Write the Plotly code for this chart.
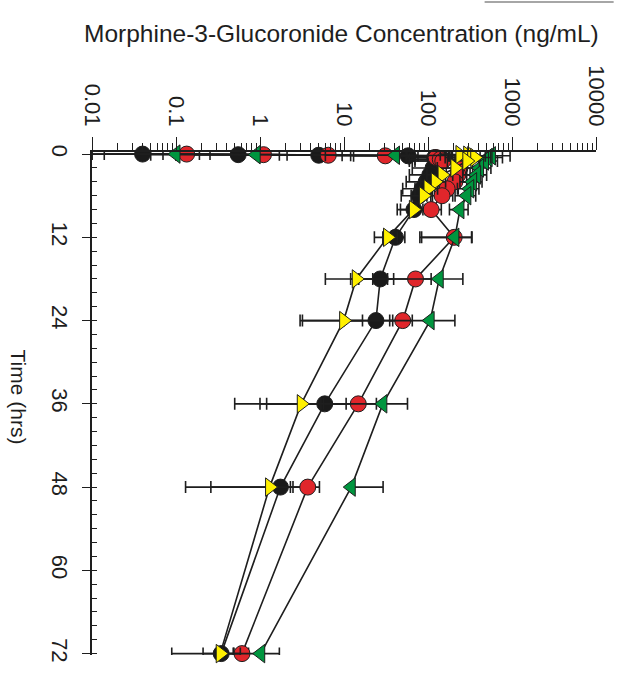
import plotly.graph_objects as go

# ---------------- data ----------------
x_tick_vals = [0.01, 0.1, 1, 10, 100, 1000, 10000]
x_tick_text = ["0.01", "0.1", "1", "10", "100", "1000", "10000"]
y_tick_vals = [0, 12, 24, 36, 48, 60, 72]
y_tick_text = ["0", "12", "24", "36", "48", "60", "72"]

# black circles
time_black = [0, 0.083, 0.167, 0.25, 0.5, 0.75, 1, 2, 3, 4, 5, 6, 8, 12, 18, 24, 36, 48, 72]
conc_black = [0.04, 0.55, 5.0, 58, 120, 150, 140, 115, 105, 95, 85, 78, 68, 41, 27, 24, 5.9, 1.75, 0.345]
sd_black = [0.03, 0.5, 4.5, 45, 60, 80, 70, 50, 45, 40, 35, 30, 25, 12, 12, 14, 4.7, 1.49, 0.135]

# red circles
time_red = [0, 0.083, 0.167, 0.25, 0.5, 0.75, 1, 2, 3, 4, 5, 6, 8, 12, 18, 24, 36, 48, 72]
conc_red = [0.134, 1.1, 6.5, 31, 125, 140, 150, 240, 227, 209, 169, 147, 109, 205, 71, 50, 14.8, 3.7, 0.61]
sd_red = [0.12, 1.0, 5.5, 25, 70, 80, 90, 100, 90, 80, 60, 50, 35, 125, 38, 15, 9.5, 1.4, 0.12]

# green left triangles
time_green = [0, 0.083, 0.167, 0.25, 0.5, 1, 2, 3, 4, 5, 6, 8, 12, 18, 24, 36, 48, 72]
conc_green = [0.1, 0.9, 41, 569, 520, 471, 411, 379, 340, 314, 290, 240, 209, 136, 106, 29, 12.2, 1.02]
sd_green = [0.09, 0.8, 35, 380, 250, 200, 150, 120, 100, 90, 80, 60, 125, 124, 103, 28, 17, 0.68]

# yellow right triangles
time_yellow = [0.083, 0.167, 0.25, 0.5, 1, 2, 3, 4, 5, 6, 8, 12, 18, 24, 36, 48, 72]
conc_yellow = [240, 297, 331, 360, 290, 209, 147, 122, 100, 88, 67, 33, 14, 9.9, 3.1, 1.3, 0.336]
sd_yellow = [100, 120, 150, 200, 120, 80, 50, 40, 30, 25, 20, 10, 8, 6.7, 2.6, 1.17, 0.247]

FONT = "Liberation Sans, Arial, sans-serif"
INK = "#1e1e1e"

series = [
    (time_black, conc_black, sd_black, "circle", "#1a1a1a"),
    (time_red, conc_red, sd_red, "circle", "#e0262b"),
    (time_green, conc_green, sd_green, "triangle-left", "#00963f"),
    (time_yellow, conc_yellow, sd_yellow, "triangle-right", "#fff000"),
]

fig = go.Figure()
for t, c, sd, sym, col in series:
    minus = [s if s < v else 0 for s, v in zip(sd, c)]
    fig.add_trace(go.Scatter(
        x=c, y=t, mode="lines+markers",
        line=dict(color=INK, width=1.6),
        marker=dict(symbol=sym, size=16, color=col, line=dict(color=INK, width=1)),
        error_x=dict(type="data", symmetric=False, array=sd, arrayminus=minus,
                     color=INK, thickness=1.6, width=6),
        cliponaxis=False, showlegend=False,
    ))

fig.update_xaxes(
    type="log", range=[-2, 4], side="top",
    tickmode="array", tickvals=x_tick_vals, ticktext=x_tick_text, tickangle=90,
    ticks="outside", ticklen=13, tickwidth=1.3, tickcolor=INK,
    ticklabelstandoff=3,
    minor=dict(ticks="outside", ticklen=7, tickwidth=1.1, tickcolor=INK, dtick="D1", showgrid=False),
    showline=True, linecolor=INK, linewidth=1.5,
    showgrid=False, zeroline=False,
    tickfont=dict(family=FONT, size=22, color=INK),
)
fig.update_yaxes(
    range=[72.2, -0.3],
    tickmode="array", tickvals=y_tick_vals, ticktext=y_tick_text, tickangle=90,
    ticks="outside", ticklen=8, tickwidth=1.3, tickcolor=INK,
    ticklabelstandoff=4,
    minor=dict(ticks="inside", ticklen=5, tickwidth=1.1, tickcolor=INK, dtick=2, tick0=0, showgrid=False),
    showline=True, linecolor=INK, linewidth=1.5,
    showgrid=False, zeroline=False,
    tickfont=dict(family=FONT, size=22, color=INK),
)

fig.update_layout(
    width=621, height=675,
    margin=dict(l=92, r=18, t=152, b=15),
    paper_bgcolor="white", plot_bgcolor="white",
    font=dict(family=FONT, color=INK),
    annotations=[
        dict(text="Morphine-3-Glucoronide Concentration (ng/mL)", xref="paper", yref="paper",
             x=0.495, y=1.236, xanchor="center", yanchor="middle", showarrow=False,
             font=dict(family=FONT, size=24.5, color=INK)),
        dict(text="Time (hrs)", xref="paper", yref="paper",
             x=-0.145, y=0.512, xanchor="center", yanchor="middle", showarrow=False,
             textangle=90, font=dict(family=FONT, size=21, color=INK)),
    ],
    shapes=[
        dict(type="line", xref="paper", yref="paper", x0=0.779, x1=1.035, y0=1.298, y1=1.298,
             line=dict(color="#888888", width=1.5)),
    ],
)

fig.write_html("out.html")
